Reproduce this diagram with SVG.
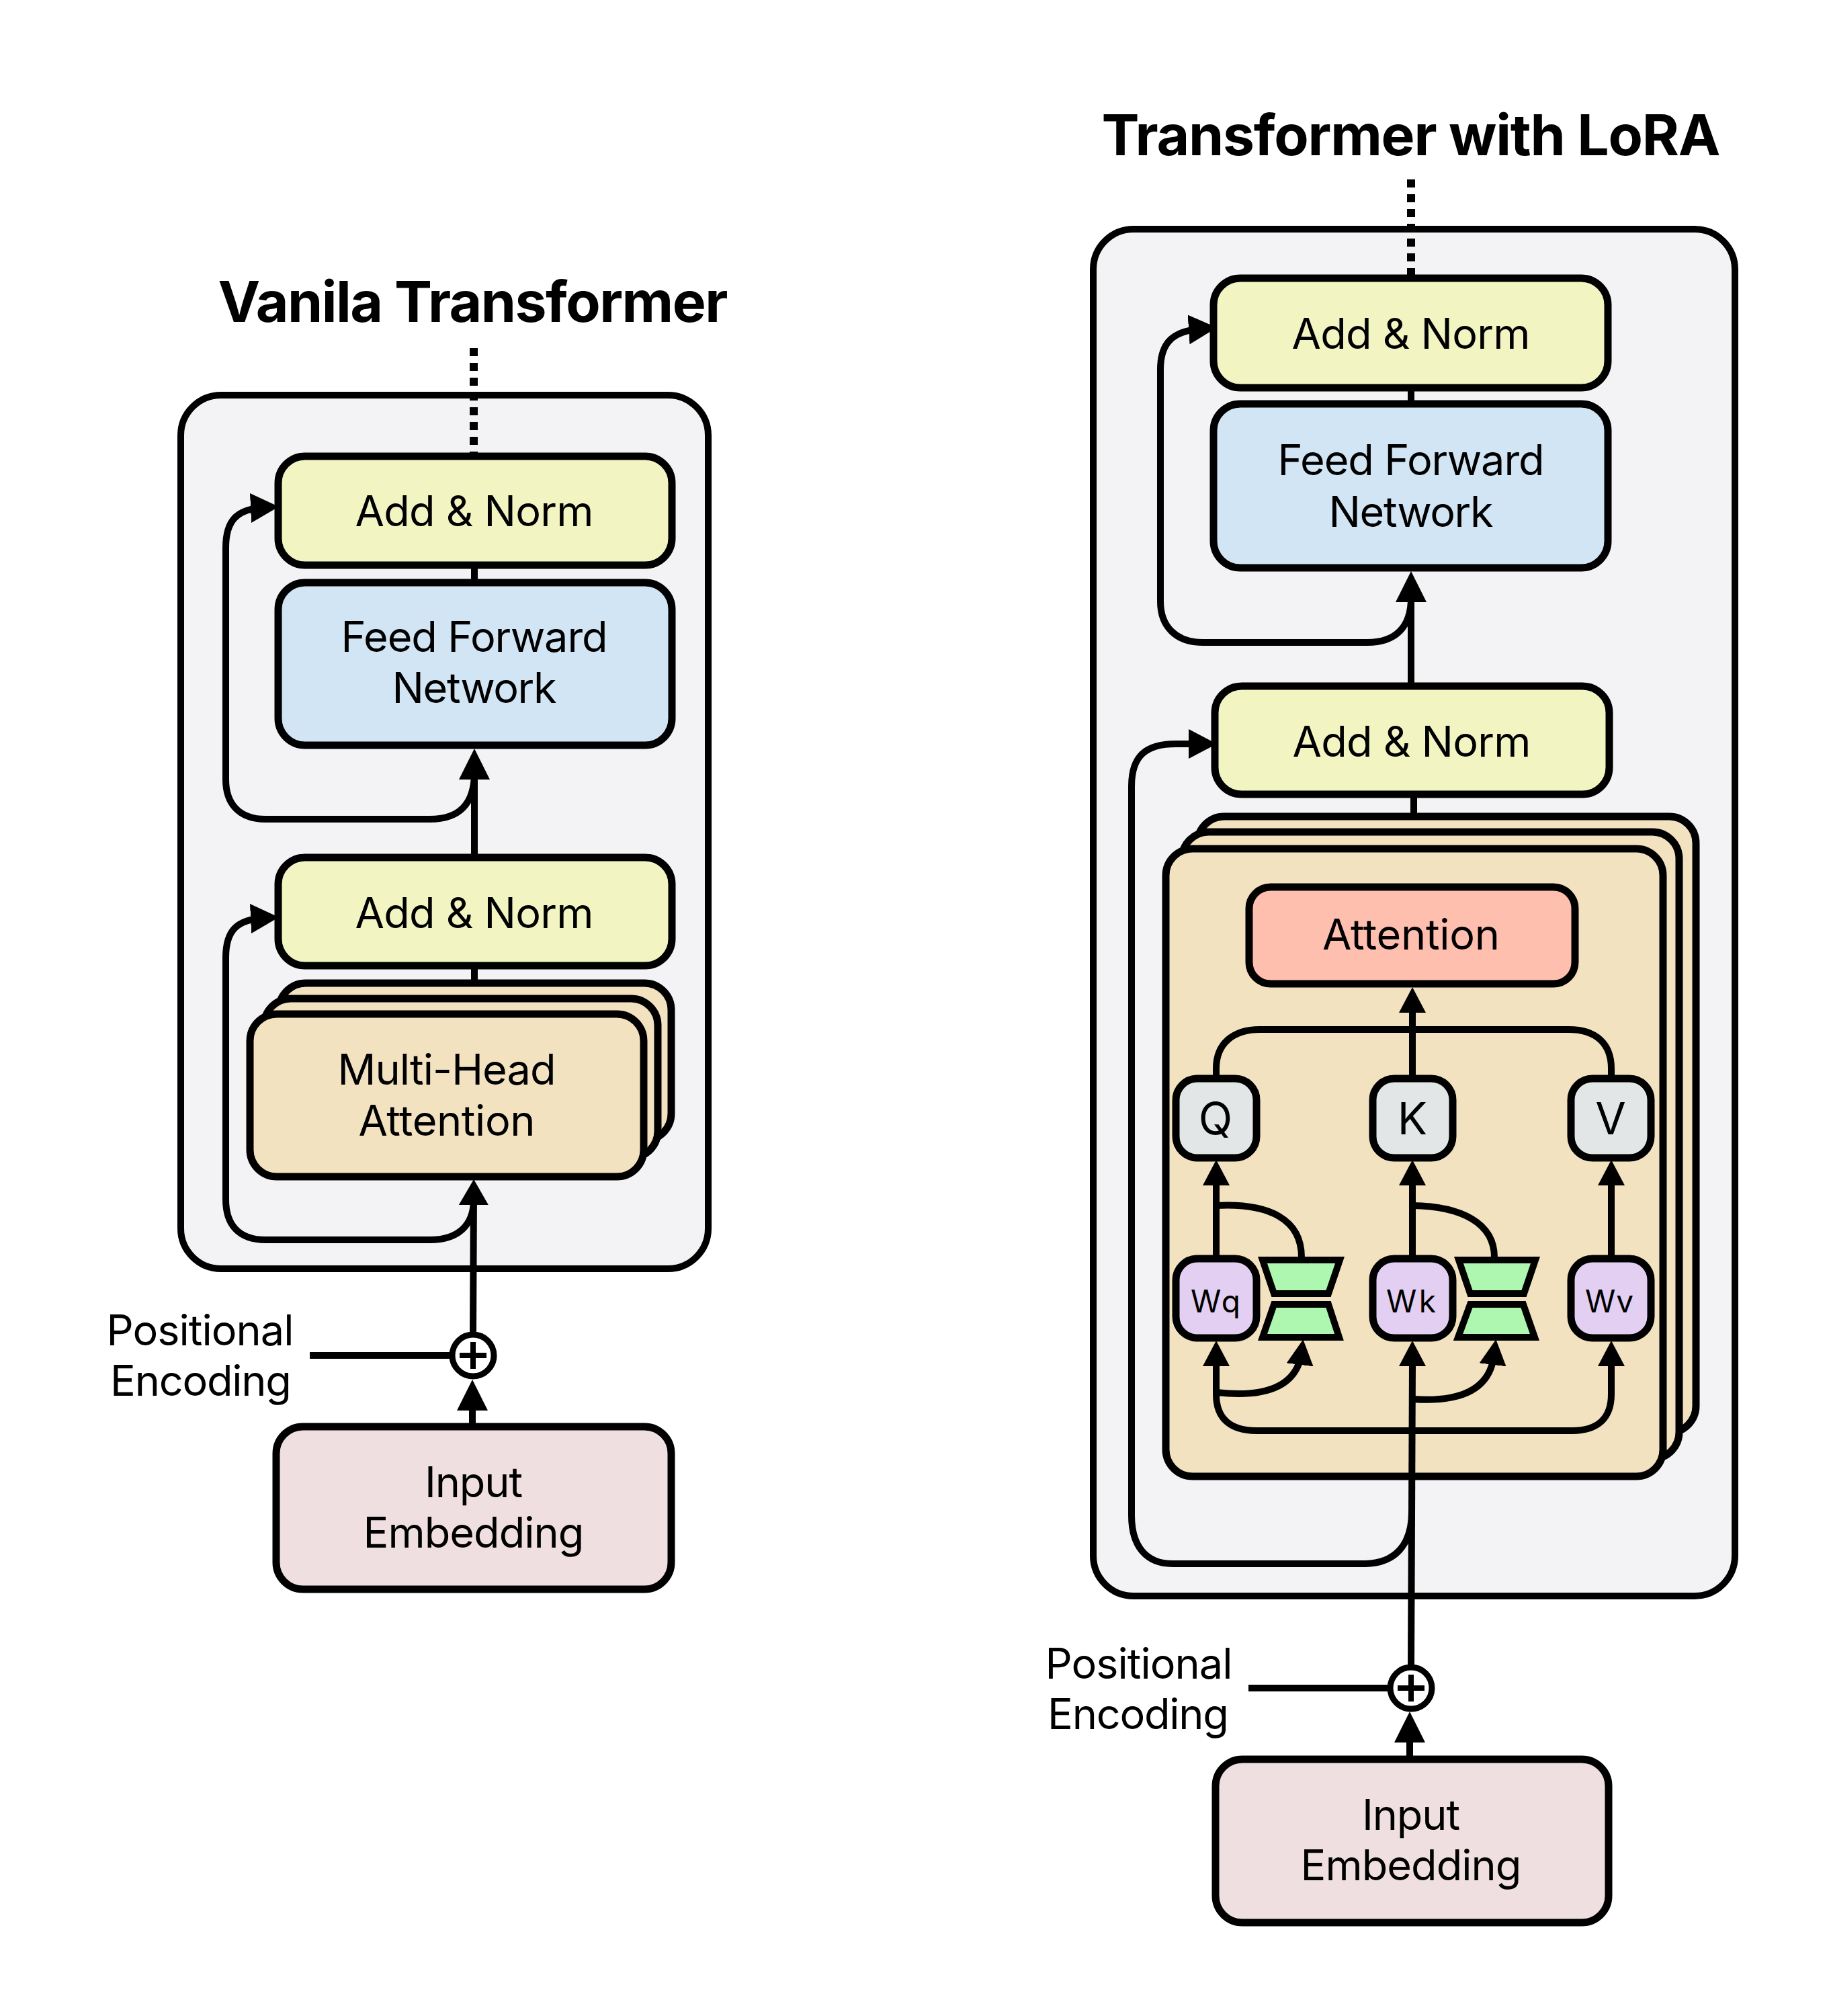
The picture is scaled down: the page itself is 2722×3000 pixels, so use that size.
<svg xmlns="http://www.w3.org/2000/svg" width="2722" height="3000" viewBox="0 0 2722 3000">
<style>
text{font-family:Inter,"Liberation Sans",sans-serif;font-size:63px;fill:#000;text-anchor:middle}
.title{font-size:84px;font-weight:700}
.box{stroke:#000;stroke-width:11}
.panel{fill:#f3f3f5;stroke:#000;stroke-width:10}
.yellow{fill:#f2f5c2}.blue{fill:#d2e5f5}.beige{fill:#f2e2c0}.pink{fill:#f0dfe0}.red{fill:#ffbfae}.grey{fill:#e2e6e6}.purple{fill:#e2cff2}.green{fill:#aef7b0}
.key{font-size:66px}.w{font-size:46px}
.c{fill:none;stroke:#000;stroke-width:10}
.d{fill:none;stroke:#000;stroke-width:12;stroke-dasharray:12 10}
.big{marker-end:url(#big)}.mid{marker-end:url(#mid)}.side{marker-end:url(#side)}.small{marker-end:url(#small)}
.sum{fill:#fff;stroke:#000;stroke-width:9}
.plus{fill:none;stroke:#000;stroke-width:8}
.hg{stroke:#000;stroke-width:10;stroke-linejoin:miter}
</style>
<defs>
<marker id="big" markerUnits="userSpaceOnUse" markerWidth="46" markerHeight="46" refX="23" refY="23" orient="auto" viewBox="0 0 46 46"><path d="M0 0L46 23L0 46z"/></marker>
<marker id="mid" markerUnits="userSpaceOnUse" markerWidth="38" markerHeight="44" refX="19" refY="22" orient="auto" viewBox="0 0 38 44"><path d="M0 0L38 22L0 44z"/></marker>
<marker id="side" markerUnits="userSpaceOnUse" markerWidth="42" markerHeight="44" refX="21" refY="22" orient="auto" viewBox="0 0 42 44"><path d="M0 0L42 22L0 44z"/></marker>
<marker id="small" markerUnits="userSpaceOnUse" markerWidth="38" markerHeight="40" refX="19" refY="20" orient="auto" viewBox="0 0 38 40"><path d="M0 0L38 20L0 40z"/></marker>
</defs>

<g id="panel-left"><rect class="panel" x="269" y="588" width="785" height="1300" rx="60"/></g>
<g id="panel-right"><rect class="panel" x="1627" y="341" width="955" height="2034" rx="60"/></g>

<g id="title-left"><text class="title" x="704" y="479" textLength="759">Vanila Transformer</text></g>
<g id="title-right"><text class="title" x="2100" y="231" textLength="921">Transformer with LoRA</text></g>

<g id="stack-right">
<rect class="box beige" x="1782" y="1215" width="742" height="917" rx="40"/>
<rect class="box beige" x="1759" y="1238" width="740" height="933" rx="40"/>
<rect class="box beige" x="1735" y="1263" width="740" height="934" rx="40"/>
</g>

<g id="connectors">
<path class="d" d="M705 518V678"/>
<path class="c" d="M706 841V867"/>
<path class="c big" d="M706 1276V1137"/>
<path class="c side" d="M706 1150C706 1198 682 1219 640 1219H395C355 1219 336 1195 336 1160V815C336 775 352 757 394 755"/>
<path class="c" d="M706 1437V1463"/>
<path class="c mid" d="M704 1985L705 1774"/>
<path class="c side" d="M705 1785C705 1825 680 1845 640 1845H395C355 1845 336 1822 336 1785V1425C336 1385 352 1368 394 1366"/>
<path class="c" d="M461 2017H672"/>
<path class="c big" d="M703 2123V2076"/>

<path class="d" d="M2100 267V410"/>
<path class="c" d="M2100 577V601"/>
<path class="c big" d="M2100 1021V873"/>
<path class="c side" d="M2100 890C2100 935 2075 956 2035 956H1790C1750 956 1727 932 1727 895V550C1727 510 1745 492 1790 489"/>
<path class="c" d="M2104 1182V1215"/>
<path class="c side" d="M2101 2250C2101 2300 2075 2327 2030 2327H1745C1705 2327 1684 2300 1684 2255V1170C1684 1125 1705 1107 1750 1107L1790 1107"/>
<path class="c" d="M2100 2480L2102 2030"/>
<path class="c small" d="M2102 2040V2014"/>
<path class="c small" d="M2102 1605V1488"/>
<path class="c" d="M1810 1605V1590C1810 1553 1835 1532 1875 1532H2335C2375 1532 2398 1553 2398 1590V1605"/>
<path class="c small" d="M1810 1873V1745"/>
<path class="c small" d="M2102 1873V1745"/>
<path class="c small" d="M2398 1873V1745"/>
<path class="c" d="M1810 1794C1890 1790 1937 1815 1937 1871"/>
<path class="c" d="M2102 1794C2175 1795 2224 1820 2224 1871"/>
<path class="c small" d="M1810 2075V2014"/>
<path class="c small" d="M1810 2060V2075C1810 2110 1830 2129 1870 2129H2340C2378 2129 2398 2110 2398 2075V2014"/>
<path class="c small" d="M1810 2072C1880 2080 1925 2065 1936 2020L1937 2012"/>
<path class="c small" d="M2102 2082C2170 2087 2215 2070 2223 2020L2224 2012"/>
<path class="c" d="M1858 2512H2068"/>
<path class="c big" d="M2098 2618V2570"/>
</g>

<g id="addnorm-l2"><rect class="box yellow" x="414" y="679" width="586" height="162" rx="40"/><text x="706" y="783" textLength="355">Add &amp; Norm</text></g>
<g id="ffn-l"><rect class="box blue" x="414" y="867" width="586" height="242" rx="40"/><text x="706" y="970" textLength="397">Feed Forward</text><text x="706" y="1046" textLength="245">Network</text></g>
<g id="addnorm-l1"><rect class="box yellow" x="414" y="1276" width="586" height="161" rx="40"/><text x="706" y="1381" textLength="355">Add &amp; Norm</text></g>
<g id="mha-l">
<rect class="box beige" x="415" y="1463" width="584" height="234" rx="40"/>
<rect class="box beige" x="393" y="1486" width="586" height="237" rx="40"/>
<rect class="box beige" x="372" y="1509" width="586" height="242" rx="40"/>
<text x="665" y="1614" textLength="325">Multi-Head</text><text x="665" y="1690" textLength="263">Attention</text></g>
<g id="sum-l"><circle class="sum" cx="704" cy="2017" r="31"/><path class="plus" d="M684 2017H724M704 1997V2037"/></g>
<g id="pe-l"><text x="298" y="2002" textLength="279">Positional</text><text x="299" y="2077" textLength="270">Encoding</text></g>
<g id="input-l"><rect class="box pink" x="411" y="2123" width="588" height="242" rx="40"/><text x="705" y="2228" textLength="146">Input</text><text x="705" y="2303" textLength="329">Embedding</text></g>

<g id="addnorm-r2"><rect class="box yellow" x="1806" y="414" width="587" height="163" rx="40"/><text x="2100" y="519" textLength="355">Add &amp; Norm</text></g>
<g id="ffn-r"><rect class="box blue" x="1806" y="601" width="587" height="244" rx="40"/><text x="2100" y="707" textLength="397">Feed Forward</text><text x="2100" y="784" textLength="245">Network</text></g>
<g id="addnorm-r1"><rect class="box yellow" x="1808" y="1021" width="587" height="161" rx="40"/><text x="2101" y="1126" textLength="355">Add &amp; Norm</text></g>
<g id="attention"><rect class="box red" x="1859" y="1320" width="485" height="144" rx="32"/><text x="2100" y="1413" textLength="264">Attention</text></g>
<g id="q"><rect class="box grey" x="1750" y="1605" width="120" height="118" rx="32"/><text class="key" x="1809" y="1688">Q</text></g>
<g id="k"><rect class="box grey" x="2043" y="1605" width="119" height="118" rx="32"/><text class="key" x="2102" y="1688">K</text></g>
<g id="v"><rect class="box grey" x="2338" y="1605" width="119" height="118" rx="32"/><text class="key" x="2397" y="1688">V</text></g>
<g id="wq"><rect class="box purple" x="1750" y="1873" width="120" height="118" rx="32"/><text class="w" x="1809" y="1953" textLength="74">Wq</text></g>
<g id="wk"><rect class="box purple" x="2043" y="1873" width="119" height="118" rx="32"/><text class="w" x="2100" y="1953" textLength="74">Wk</text></g>
<g id="wv"><rect class="box purple" x="2338" y="1873" width="119" height="118" rx="32"/><text class="w" x="2395" y="1953" textLength="72">Wv</text></g>
<g id="lora-q"><path class="hg green" d="M1879 1875H1994L1977 1925H1896z"/><path class="hg green" d="M1896 1941H1977L1993 1990H1879z"/></g>
<g id="lora-k"><path class="hg green" d="M2171 1875H2285L2268 1925H2188z"/><path class="hg green" d="M2188 1941H2267L2284 1990H2170z"/></g>
<g id="sum-r"><circle class="sum" cx="2100" cy="2512" r="31"/><path class="plus" d="M2080 2512H2120M2100 2492V2532"/></g>
<g id="pe-r"><text x="1695" y="2498" textLength="279">Positional</text><text x="1694" y="2573" textLength="270">Encoding</text></g>
<g id="input-r"><rect class="box pink" x="1809" y="2618" width="585" height="243" rx="40"/><text x="2100" y="2723" textLength="146">Input</text><text x="2100" y="2798" textLength="329">Embedding</text></g>
</svg>
